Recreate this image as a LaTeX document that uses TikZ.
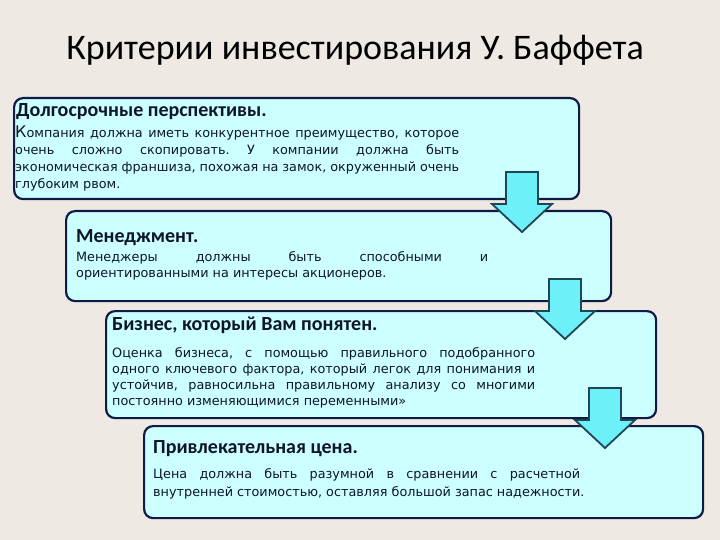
\documentclass[tikz,border=0pt]{standalone}
\usepackage{fontspec}
\setmainfont{Carlito}
\newfontfamily\bodyfont{DejaVu Sans}
\frenchspacing
\definecolor{pagebg}{RGB}{238,234,227}
\definecolor{boxfill}{RGB}{204,255,255}
\definecolor{boxline}{RGB}{16,26,70}
\definecolor{arrowfill}{RGB}{110,240,248}
\definecolor{arrowline}{RGB}{30,70,84}
\definecolor{inktext}{RGB}{14,22,40}

\tikzset{
  critbox/.style={draw=boxline, line width=2.2pt, fill=boxfill, rounded corners=9pt,
    inner sep=0pt, anchor=north west},
  headtext/.style={anchor=base west, inner sep=0pt, text=inktext,
    font=\bfseries\fontsize{20}{22}\selectfont},
  bodytext/.style={anchor=base west, inner sep=0pt, align=left, text=inktext,
    font=\bodyfont\fontsize{12.8}{17}\selectfont},
  downarrow/.style={draw=arrowline, line width=1.8pt, fill=arrowfill, line join=miter}
}

% block arrow pointing down: centre x, top y
\newcommand\blockarrow[2]{%
  \draw[downarrow] (#1-16,#2) -- (#1+16,#2) -- (#1+16,#2+32) -- (#1+30,#2+32)
    -- (#1,#2+60) -- (#1-30,#2+32) -- (#1-16,#2+32) -- cycle;}

\begin{document}
\begin{tikzpicture}[x=1pt, y=-1pt]
  \fill[pagebg] (0,0) rectangle (720,540);
  \useasboundingbox (0,0) rectangle (720,540);

  \node[anchor=base, inner sep=0pt, font=\fontsize{36}{40}\selectfont, text=black]
    (title) at (355,60) {Критерии инвестирования У. Баффета};

  % Long-term prospects (body placed by its last baseline)
  \node[critbox, minimum width=565pt, minimum height=101pt] (box1) at (13,97) {};
  \node[headtext] (head1) at (16,117) {Долгосрочные перспективы.};
  \node[bodytext] (body1) at (15,189) {%
    \makebox[444pt][s]{{\fontsize{16}{17}\selectfont К}омпания должна иметь конкурентное преимущество, которое}\\
    \makebox[444pt][s]{очень сложно скопировать. У компании должна быть}\\
    \makebox[444pt][s]{экономическая франшиза, похожая на замок, окруженный очень}\\
    глубоким рвом.};

  % Management
  \node[critbox, minimum width=545pt, minimum height=90pt] (box2) at (65,210) {};
  \node[headtext] (head2) at (76,242) {Менеджмент.};
  \node[bodytext, font=\bodyfont\fontsize{12.8}{15.5}\selectfont] (body2) at (76,277) {%
    \makebox[412pt][s]{Менеджеры должны быть способными и}\\
    ориентированными на интересы акционеров.};
  \blockarrow{522}{172}

  % Understandable business
  \node[critbox, minimum width=550pt, minimum height=107pt] (box3) at (105,310) {};
  \node[headtext] (head3) at (112,330) {Бизнес, который Вам понятен.};
  \node[bodytext, font=\bodyfont\fontsize{12.8}{16}\selectfont] (body3) at (112,405) {%
    \makebox[423pt][s]{Оценка бизнеса, с помощью правильного подобранного}\\
    \makebox[423pt][s]{одного ключевого фактора, который легок для понимания и}\\
    \makebox[423pt][s]{устойчив, равносильна правильному анализу со многими}\\
    постоянно изменяющимися переменными»};
  \blockarrow{565}{279}

  % Attractive price
  \node[critbox, minimum width=559pt, minimum height=92pt] (box4) at (143,425) {};
  \node[headtext] (head4) at (153,453) {Привлекательная цена.};
  \node[bodytext, font=\bodyfont\fontsize{12.8}{18}\selectfont] (body4) at (153,496) {%
    \makebox[427pt][s]{Цена должна быть разумной в сравнении с расчетной}\\
    внутренней стоимостью, оставляя большой запас надежности.};
  \blockarrow{605}{388}
\end{tikzpicture}
\end{document}
